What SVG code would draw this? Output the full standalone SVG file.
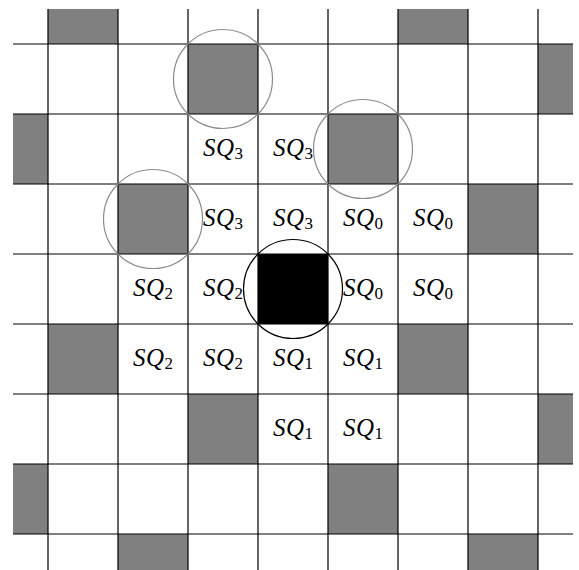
<svg xmlns="http://www.w3.org/2000/svg" width="579" height="570" viewBox="0 0 579 570">
<style>
.g{fill:#808080}
.ln{stroke:#000;stroke-width:1.2}
.c{fill:none;stroke:#8c8c8c;stroke-width:1.2}
.t{font-family:"Liberation Serif","DejaVu Serif",serif;font-style:italic;font-size:25px;fill:#000;text-anchor:middle;letter-spacing:0.5px}
.s{font-style:normal;font-size:17px;letter-spacing:0}
</style>
<rect width="579" height="570" fill="#fff"/>
<g id="squares">
<rect class="g" x="48" y="9" width="70" height="35"/>
<rect class="g" x="398" y="9" width="70" height="35"/>
<rect class="g" x="188" y="44" width="70" height="70"/>
<rect class="g" x="538" y="44" width="35" height="70"/>
<rect class="g" x="13" y="114" width="35" height="70"/>
<rect class="g" x="328" y="114" width="70" height="70"/>
<rect class="g" x="118" y="184" width="70" height="70"/>
<rect class="g" x="468" y="184" width="70" height="70"/>
<rect x="258" y="254" width="70" height="70" fill="#000"/>
<rect class="g" x="48" y="324" width="70" height="70"/>
<rect class="g" x="398" y="324" width="70" height="70"/>
<rect class="g" x="188" y="394" width="70" height="70"/>
<rect class="g" x="538" y="394" width="35" height="70"/>
<rect class="g" x="13" y="464" width="35" height="70"/>
<rect class="g" x="328" y="464" width="70" height="70"/>
<rect class="g" x="118" y="534" width="70" height="36"/>
<rect class="g" x="468" y="534" width="70" height="36"/>
</g>
<g id="grid">
<path class="ln" d="M48 9V570M118 9V570M188 9V570M258 9V570M328 9V570M398 9V570M468 9V570M538 9V570"/>
<path class="ln" d="M13 44H573M13 114H573M13 184H573M13 254H573M13 324H573M13 394H573M13 464H573M13 534H573"/>
</g>
<g id="circles">
<circle class="c" cx="223" cy="79" r="49.5"/>
<circle class="c" cx="363" cy="149" r="49.5"/>
<circle class="c" cx="153" cy="219" r="49.5"/>
<circle cx="293" cy="289" r="49.5" fill="none" stroke="#000" stroke-width="1.2"/>
</g>
<g id="labels">
<text class="t" x="223" y="156">SQ<tspan class="s" dy="3">3</tspan></text>
<text class="t" x="293" y="156">SQ<tspan class="s" dy="3">3</tspan></text>
<text class="t" x="223" y="226">SQ<tspan class="s" dy="3">3</tspan></text>
<text class="t" x="293" y="226">SQ<tspan class="s" dy="3">3</tspan></text>
<text class="t" x="363" y="226">SQ<tspan class="s" dy="3">0</tspan></text>
<text class="t" x="433" y="226">SQ<tspan class="s" dy="3">0</tspan></text>
<text class="t" x="153" y="296">SQ<tspan class="s" dy="3">2</tspan></text>
<text class="t" x="223" y="296">SQ<tspan class="s" dy="3">2</tspan></text>
<text class="t" x="363" y="296">SQ<tspan class="s" dy="3">0</tspan></text>
<text class="t" x="433" y="296">SQ<tspan class="s" dy="3">0</tspan></text>
<text class="t" x="153" y="366">SQ<tspan class="s" dy="3">2</tspan></text>
<text class="t" x="223" y="366">SQ<tspan class="s" dy="3">2</tspan></text>
<text class="t" x="293" y="366">SQ<tspan class="s" dy="3">1</tspan></text>
<text class="t" x="363" y="366">SQ<tspan class="s" dy="3">1</tspan></text>
<text class="t" x="293" y="436">SQ<tspan class="s" dy="3">1</tspan></text>
<text class="t" x="363" y="436">SQ<tspan class="s" dy="3">1</tspan></text>
</g>
</svg>
